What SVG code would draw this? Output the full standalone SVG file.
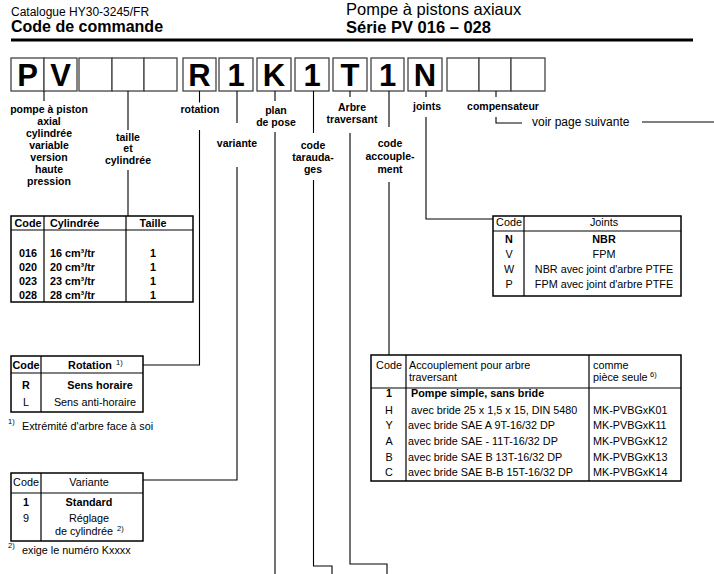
<svg xmlns="http://www.w3.org/2000/svg" width="714" height="574" viewBox="0 0 714 574">
<style>
text{font-family:"Liberation Sans",Arial,sans-serif;fill:#000}
.b{font-weight:bold}
.lbl{font-size:10.5px;font-weight:bold;text-anchor:middle}
.t{font-size:10.8px}
.c{text-anchor:middle}
.sup{font-size:7.5px}
.box{fill:#fff;stroke:#444;stroke-width:1.3}
.big{font-size:31px;font-weight:bold;text-anchor:middle}
.tb{fill:none;stroke:#000;stroke-width:1.5}
.tl{stroke:#000;stroke-width:1.2;fill:none}
.cn{stroke:#000;stroke-width:1.1;fill:none}
</style>
<rect width="714" height="574" fill="#fff"/>
<g id="header">
<text x="11" y="16" style="font-size:12px">Catalogue HY30-3245/FR</text>
<text x="11" y="32" class="b" style="font-size:16px">Code de commande</text>
<text x="346" y="15" style="font-size:16.5px">Pompe à pistons axiaux</text>
<text x="346" y="33" class="b" style="font-size:16.5px">Série PV 016 – 028</text>
<line x1="11" y1="40" x2="693" y2="40" stroke="#000" stroke-width="3"/>
</g>
<g id="code-boxes">
<rect class="box" x="11" y="58" width="33" height="33"/>
<rect class="box" x="44" y="58" width="33" height="33"/>
<rect class="box" x="79" y="58" width="33" height="33"/>
<rect class="box" x="112" y="58" width="32" height="33"/>
<rect class="box" x="144" y="58" width="33" height="33"/>
<rect class="box" x="183" y="58" width="33" height="33"/>
<rect class="box" x="219" y="58" width="34" height="33"/>
<rect class="box" x="257" y="58" width="34" height="33"/>
<rect class="box" x="295" y="58" width="34" height="33"/>
<rect class="box" x="333" y="58" width="34" height="33"/>
<rect class="box" x="371" y="58" width="33" height="33"/>
<rect class="box" x="408" y="58" width="34" height="33"/>
<rect class="box" x="447" y="58" width="32" height="33"/>
<rect class="box" x="479" y="58" width="32" height="33"/>
<rect class="box" x="511" y="58" width="34" height="33"/>
<text class="big" x="27.5" y="86">P</text>
<text class="big" x="60.5" y="86">V</text>
<text class="big" x="199.5" y="86">R</text>
<text class="big" x="236" y="86">1</text>
<text class="big" x="274" y="86">K</text>
<text class="big" x="312" y="86">1</text>
<text class="big" x="350" y="86">T</text>
<text class="big" x="387.5" y="86">1</text>
<text class="big" x="425" y="86">N</text>
</g>
<g id="labels">
<text class="lbl" x="49" y="113">pompe à piston</text>
<text class="lbl" x="49" y="125">axial</text>
<text class="lbl" x="49" y="137">cylindrée</text>
<text class="lbl" x="49" y="149">variable</text>
<text class="lbl" x="49" y="161">version</text>
<text class="lbl" x="49" y="173">haute</text>
<text class="lbl" x="49" y="185">pression</text>
<text class="lbl" x="128" y="140.5">taille</text>
<text class="lbl" x="128" y="152">et</text>
<text class="lbl" x="128" y="164">cylindrée</text>
<text class="lbl" x="200" y="113">rotation</text>
<text class="lbl" x="237" y="146.5">variante</text>
<text class="lbl" x="276" y="114">plan</text>
<text class="lbl" x="276" y="125.5">de pose</text>
<text class="lbl" x="313" y="149">code</text>
<text class="lbl" x="313" y="160.5">tarauda-</text>
<text class="lbl" x="313" y="173">ges</text>
<text class="lbl" x="352" y="111">Arbre</text>
<text class="lbl" x="352" y="123">traversant</text>
<text class="lbl" x="390" y="146.5">code</text>
<text class="lbl" x="390" y="159.5">accouple-</text>
<text class="lbl" x="390" y="172.5">ment</text>
<text class="lbl" x="427" y="109.5">joints</text>
<text class="lbl" x="503" y="109.5">compensateur</text>
<text x="532" y="126" style="font-size:12px">voir page suivante</text>
</g>
<g id="connectors">
<path class="cn" d="M44 91V101"/>
<path class="cn" d="M128 91V130M128 170V216"/>
<path class="cn" d="M199.5 91V102.5M199.5 130V365H143"/>
<path class="cn" d="M237 91V123M237 167V480H143"/>
<path class="cn" d="M275 91V101M275 132V574"/>
<path class="cn" d="M313.5 91V133M313.5 180V566H332V574"/>
<path class="cn" d="M350 91V97M350 133V564H387V574"/>
<path class="cn" d="M389 91V127M389 182V355"/>
<path class="cn" d="M426 91V97M426 117V219H493"/>
<path class="cn" d="M496 91V97M496 117V123H522"/>
<path class="cn" d="M642 122H714"/>
</g>
<g id="table-cylindree">
<rect class="tb" x="11" y="216" width="182" height="86"/>
<path class="tl" d="M11 230H193M44 216V302M126 216V302"/>
<g class="t b">
<text class="c" x="28" y="227">Code</text>
<text x="50" y="227">Cylindrée</text>
<text class="c" x="153" y="227">Taille</text>
<text class="c" x="28" y="256.5">016</text>
<text x="50" y="256.5">16 cm³/tr</text>
<text class="c" x="153" y="256.5">1</text>
<text class="c" x="28" y="271">020</text>
<text x="50" y="271">20 cm³/tr</text>
<text class="c" x="153" y="271">1</text>
<text class="c" x="28" y="285">023</text>
<text x="50" y="285">23 cm³/tr</text>
<text class="c" x="153" y="285">1</text>
<text class="c" x="28" y="298.5">028</text>
<text x="50" y="298.5">28 cm³/tr</text>
<text class="c" x="153" y="298.5">1</text>
</g>
</g>
<g id="table-joints">
<rect class="tb" x="493" y="216" width="188" height="80"/>
<path class="tl" d="M493 231H681M524 216V296"/>
<g class="t">
<text class="c" x="509" y="226">Code</text>
<text class="c" x="604" y="226">Joints</text>
<text class="c b" x="509" y="243">N</text>
<text class="c b" x="604" y="243">NBR</text>
<text class="c" x="509" y="258">V</text>
<text class="c" x="604" y="258">FPM</text>
<text class="c" x="509" y="272.5">W</text>
<text class="c" x="604" y="272.5">NBR avec joint d'arbre PTFE</text>
<text class="c" x="509" y="288">P</text>
<text class="c" x="604" y="288">FPM avec joint d'arbre PTFE</text>
</g>
</g>
<g id="table-rotation">
<rect class="tb" x="11" y="356" width="132" height="56"/>
<path class="tl" d="M11 373H143M41 356V412"/>
<g class="t">
<text class="c b" x="26" y="369">Code</text>
<text class="c b" x="90" y="369">Rotation</text>
<text class="sup" x="116" y="365">1)</text>
<text class="c b" x="26" y="389">R</text>
<text class="c b" x="100" y="389">Sens horaire</text>
<text class="c" x="26" y="405.5">L</text>
<text class="c" x="95" y="405.5">Sens anti-horaire</text>
<text class="sup" x="8" y="424">1)</text>
<text x="22" y="430">Extrémité d'arbre face à soi</text>
</g>
</g>
<g id="table-variante">
<rect class="tb" x="11" y="473" width="132" height="68"/>
<path class="tl" d="M11 493H143M41 473V541"/>
<g class="t">
<text class="c" x="26" y="486">Code</text>
<text class="c" x="89" y="486">Variante</text>
<text class="c b" x="26" y="506">1</text>
<text class="c b" x="89" y="506">Standard</text>
<text class="c" x="26" y="522">9</text>
<text class="c" x="89" y="522">Réglage</text>
<text class="c" x="84" y="535">de cylindrée</text>
<text class="sup" x="117" y="531">2)</text>
<text class="sup" x="8" y="548">2)</text>
<text x="22" y="554">exige le numéro Kxxxx</text>
</g>
</g>
<g id="table-accouplement">
<rect class="tb" x="371" y="355" width="310" height="126"/>
<path class="tl" d="M371 388H681M406 355V481M589 355V481"/>
<g class="t">
<text class="c" x="389" y="369">Code</text>
<text x="409" y="369">Accouplement pour arbre</text>
<text x="409" y="381">traversant</text>
<text x="593" y="369">comme</text>
<text x="593" y="381">pièce seule</text>
<text class="sup" x="650" y="377">6)</text>
<text class="c b" x="389" y="397">1</text>
<text class="b" x="411" y="397">Pompe simple, sans bride</text>
<text class="c" x="389" y="414">H</text>
<text x="411" y="414">avec bride 25 x 1,5 x 15, DIN 5480</text>
<text x="593" y="414">MK-PVBGxK01</text>
<text class="c" x="389" y="429">Y</text>
<text x="408" y="429">avec bride SAE A 9T-16/32 DP</text>
<text x="593" y="429">MK-PVBGxK11</text>
<text class="c" x="389" y="444.5">A</text>
<text x="408" y="444.5">avec bride SAE - 11T-16/32 DP</text>
<text x="593" y="444.5">MK-PVBGxK12</text>
<text class="c" x="389" y="460.5">B</text>
<text x="408" y="460.5">avec bride SAE B 13T-16/32 DP</text>
<text x="593" y="460.5">MK-PVBGxK13</text>
<text class="c" x="389" y="475.5">C</text>
<text x="408" y="475.5">avec bride SAE B-B 15T-16/32 DP</text>
<text x="593" y="475.5">MK-PVBGxK14</text>
</g>
</g>
</svg>
